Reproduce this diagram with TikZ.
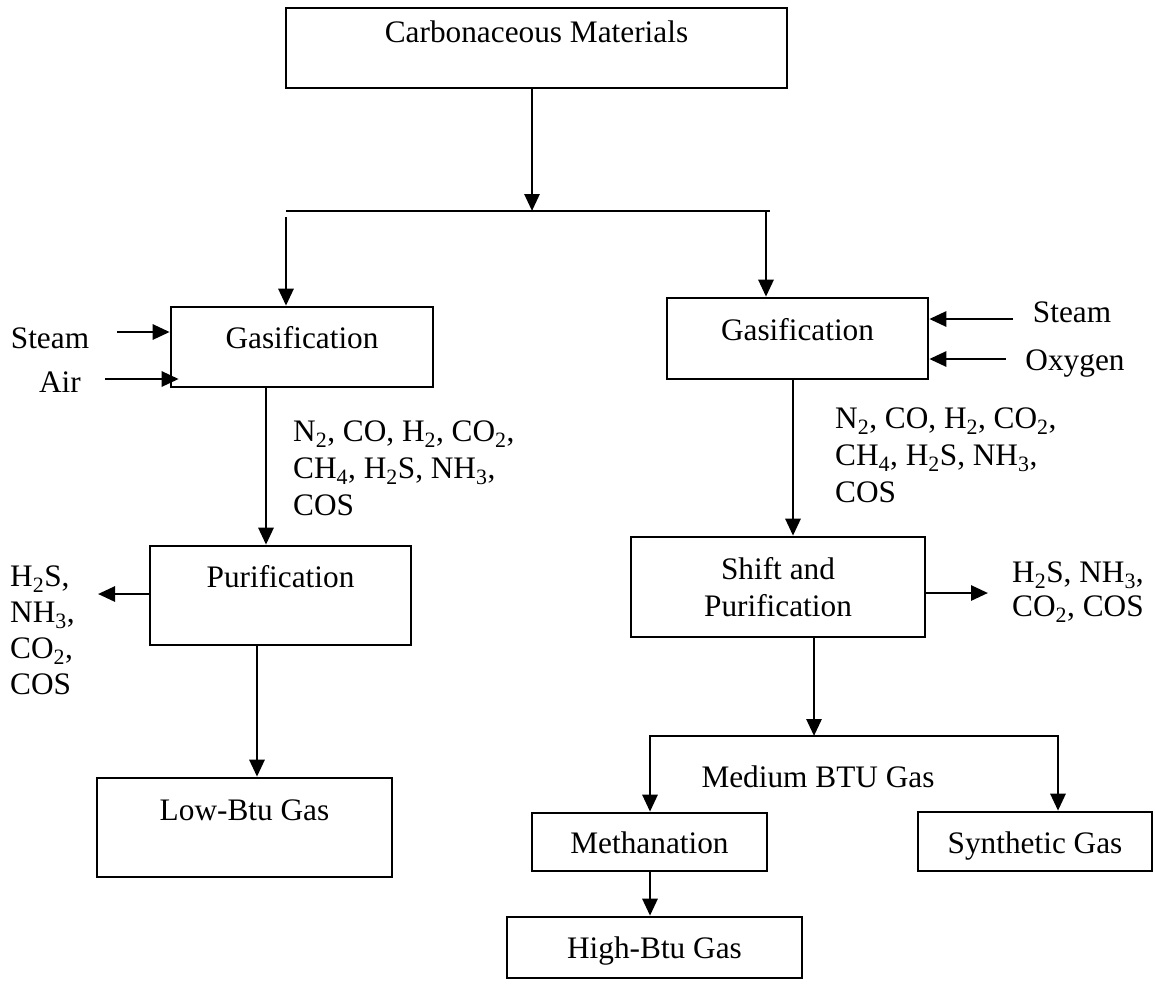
\documentclass[tikz,border=0pt]{standalone}
\usepackage{fontspec}
\setmainfont{Liberation Serif}
\usetikzlibrary{arrows.meta}

\begin{document}
\begin{tikzpicture}[x=1pt, y=-1pt,
  font=\fontsize{31.3}{37}\selectfont,
  stage/.style={draw, line width=2.6pt, inner sep=0pt, anchor=base},
  tag/.style={inner sep=0pt, anchor=base},
  gases/.style={inner sep=0pt, anchor=north west, align=left},
  flow/.style={line width=2.8pt, -{Triangle[length=17pt,width=15pt]}},
  link/.style={line width=2.6pt}]

  \useasboundingbox (0,0) rectangle (1155,986);

  % Feed material

  \node [stage, minimum width=501pt, text height=34pt, text depth=46pt] (CM) at (536.5,42) {Carbonaceous Materials};

  % Route with air: low-Btu gas

  \node [stage, minimum width=262pt, text height=41pt, text depth=39pt] (GL) at (302,348) {Gasification};
  \node [stage, minimum width=261pt, text height=41pt, text depth=58pt] (PL) at (280.5,587) {Purification};
  \node [stage, minimum width=295pt, text height=42pt, text depth=57pt] (LB) at (244.5,820) {Low-Btu Gas};
  \node [tag] (steamL) at (50,348) {Steam};
  \node [tag] (airL) at (60,392) {Air};
  \node [gases] (gasL) at (293,421) {N\textsubscript{2}, CO, H\textsubscript{2}, CO\textsubscript{2},\\CH\textsubscript{4}, H\textsubscript{2}S, NH\textsubscript{3},\\COS};
  \node [gases] (remL) at (10,566) {H\textsubscript{2}S,\\[-1pt]NH\textsubscript{3},\\[-1pt]CO\textsubscript{2},\\[-1pt]COS};

  % Route with oxygen: medium, high-Btu and synthetic gas

  \node [stage, minimum width=261pt, text height=42pt, text depth=39pt] (GR) at (797.5,340) {Gasification};
  \node [stage, anchor=center, align=center, minimum width=294pt, minimum height=100pt] (SP) at (778,587) {Shift and\\Purification};
  \node [stage, minimum width=235pt, text height=40pt, text depth=18pt] (MT) at (649.5,853) {Methanation};
  \node [stage, minimum width=234pt, text height=41pt, text depth=18pt] (SG) at (1035,853) {Synthetic Gas};
  \node [stage, minimum width=295pt, text height=41pt, text depth=20pt] (HB) at (654.5,958) {High-Btu Gas};
  \node [tag] (steamR) at (1072,322) {Steam};
  \node [tag] (oxyR) at (1075,370) {Oxygen};
  \node [gases] (gasR) at (835,408) {N\textsubscript{2}, CO, H\textsubscript{2}, CO\textsubscript{2},\\CH\textsubscript{4}, H\textsubscript{2}S, NH\textsubscript{3},\\COS};
  \node [gases] (remR) at (1012,562) {H\textsubscript{2}S, NH\textsubscript{3},\\[-3pt]CO\textsubscript{2}, COS};
  \node [tag] (mbtu) at (818,787) {Medium BTU Gas};

  % Split to both gasifiers

  \coordinate (split) at (532,211);
  \coordinate (busL) at (286,211);
  \coordinate (busR) at (770,211);
  \draw [flow] (CM.south -| split) -- (split);
  \draw [link] (busL) -- (busR);
  \draw [flow] ([yshift=-6pt]busL) -- (busL |- GL.north);
  \draw [flow] ([xshift=-4pt]busR) -- ([xshift=-4pt]busR |- GR.north);

  % Left connections

  \coordinate (inS) at (117,332);
  \coordinate (inA) at (105,379);
  \coordinate (outL) at (98,594);
  \draw [flow] (inS) -- (inS -| GL.west);
  \draw [flow] (inA) -- ([xshift=9pt]inA -| GL.west);
  \draw [flow] ([xshift=-36pt]GL.south) -- ([xshift=-36pt]GL.south |- PL.north);
  \draw [flow] (outL -| PL.west) -- (outL);
  \draw [flow] ([xshift=-23.5pt]PL.south) -- ([xshift=-23.5pt]PL.south |- LB.north);

  % Right connections

  \coordinate (inS2) at (1013,319);
  \coordinate (inO) at (1006,359);
  \coordinate (outR) at (988,593);
  \coordinate (bus2) at (814,736);
  \coordinate (medL) at (650,736);
  \coordinate (medR) at (1058,736);
  \draw [flow] (inS2) -- (inS2 -| GR.east);
  \draw [flow] (inO) -- (inO -| GR.east);
  \draw [flow] ([xshift=-4.5pt]GR.south) -- ([xshift=-4.5pt]GR.south |- SP.north);
  \draw [flow] (outR -| SP.east) -- (outR);
  \draw [flow] (SP.south -| bus2) -- (bus2);
  \draw [flow] (bus2) -- (medL) -- (medL |- MT.north);
  \draw [flow] (bus2) -- (medR) -- (medR |- SG.north);
  \draw [flow] (MT.south -| medL) -- (medL |- HB.north);
\end{tikzpicture}
\end{document}
